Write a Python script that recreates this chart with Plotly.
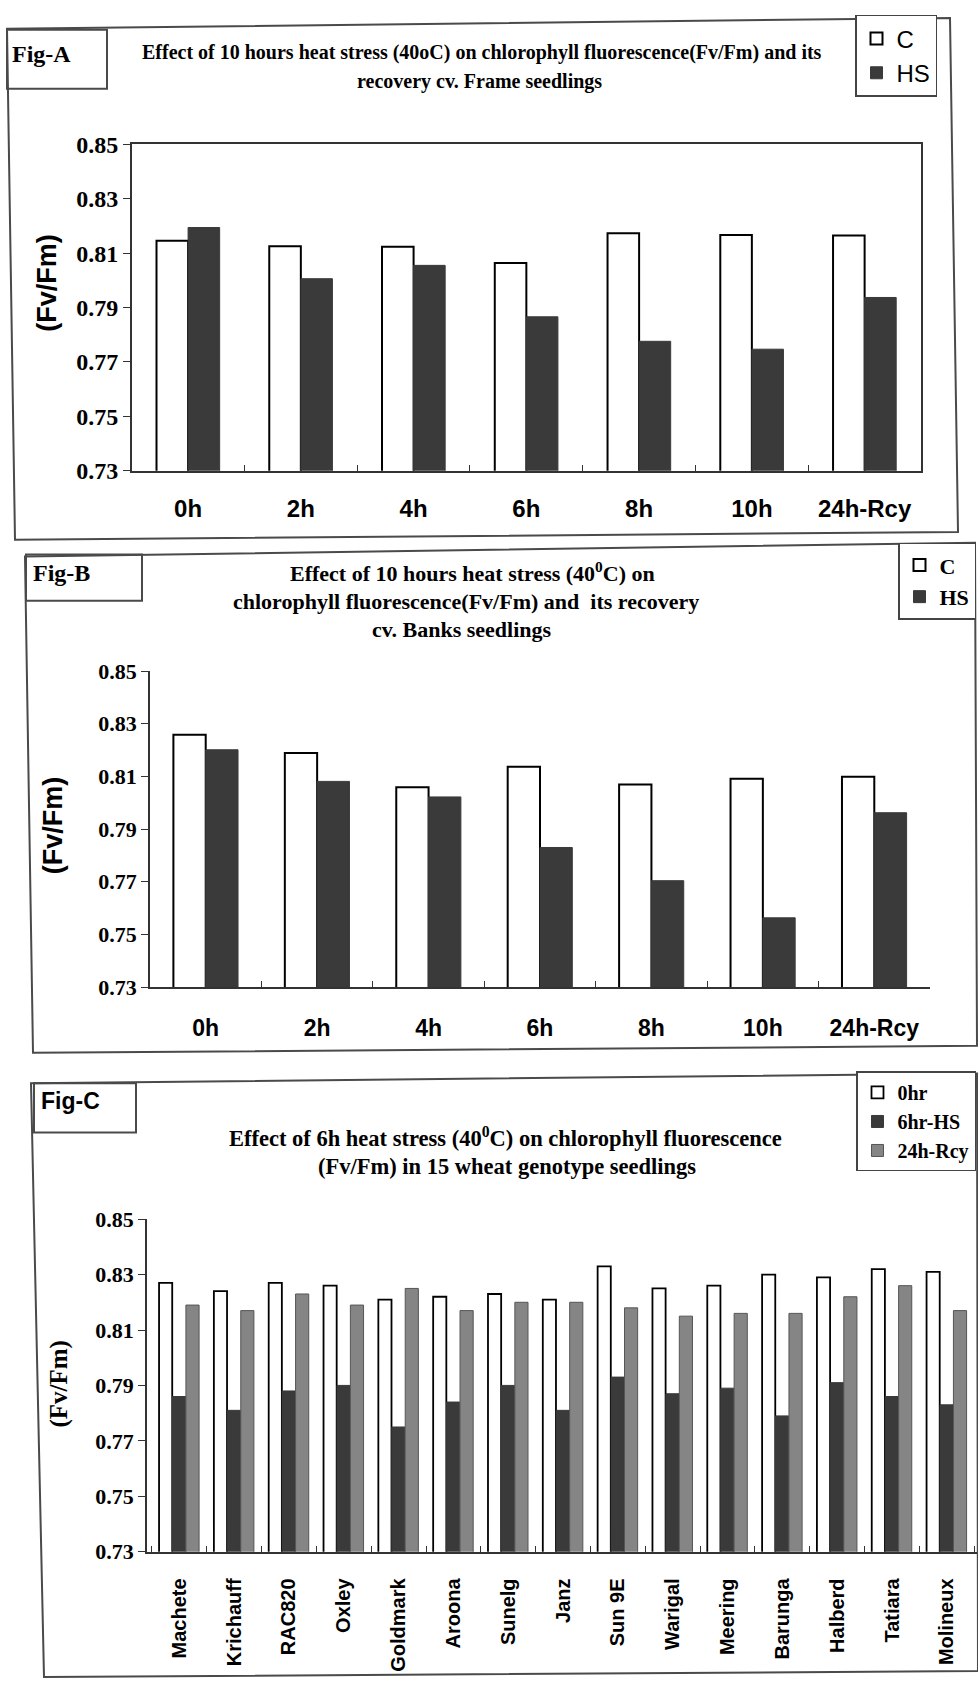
import plotly.graph_objects as go

W, H = 978, 1691

# ---------------- data ----------------
time_labels = ["0h", "2h", "4h", "6h", "8h", "10h", "24h-Rcy"]
a_control = [0.8145, 0.8125, 0.8123, 0.8064, 0.8173, 0.8167, 0.8165]
a_heat = [0.8194, 0.8006, 0.8055, 0.7866, 0.7776, 0.7747, 0.7937]
b_control = [0.8258, 0.8189, 0.8059, 0.8137, 0.8069, 0.8091, 0.8099]
b_heat = [0.8201, 0.8081, 0.8022, 0.7830, 0.7704, 0.7563, 0.7962]

genotypes = ["Machete", "Krichauff", "RAC820", "Oxley", "Goldmark", "Aroona", "Sunelg",
             "Janz", "Sun 9E", "Warigal", "Meering", "Barunga", "Halberd", "Tatiara", "Molineux"]
c_0hr = [0.827, 0.824, 0.827, 0.826, 0.821, 0.822, 0.823, 0.821, 0.833, 0.825, 0.826, 0.830, 0.829, 0.832, 0.831]
c_6hr_hs = [0.786, 0.781, 0.788, 0.790, 0.775, 0.784, 0.790, 0.781, 0.793, 0.787, 0.789, 0.779, 0.791, 0.786, 0.783]
c_24h_rcy = [0.819, 0.817, 0.823, 0.819, 0.825, 0.817, 0.820, 0.820, 0.818, 0.815, 0.816, 0.816, 0.822, 0.826, 0.817]

y_ticks = [0.73, 0.75, 0.77, 0.79, 0.81, 0.83, 0.85]

# ---------------- helpers ----------------
def px(x):
    return x / W

def py(y):
    return 1 - y / H

def path(pts):
    return "M " + " L ".join(f"{px(x):.5f},{py(y):.5f}" for x, y in pts) + " Z"

SERIF = "Liberation Serif"
SANS = "Liberation Sans"
DARK = "#3a3a3a"
GRAY = "#858585"
LINE = "#333333"

fig = go.Figure()

# ---------------- Fig A ----------------
fig.add_trace(go.Bar(x=time_labels, y=a_control, name="C", xaxis="x", yaxis="y",
                     marker=dict(color="white", line=dict(color="black", width=2)),
                     width=0.28, offset=-0.28, legend="legend", legendgroup="a1"))
fig.add_trace(go.Bar(x=time_labels, y=a_heat, name="HS", xaxis="x", yaxis="y",
                     marker=dict(color=DARK, line=dict(color=DARK, width=1)),
                     width=0.28, offset=0.0, legend="legend", legendgroup="a2"))

# ---------------- Fig B ----------------
fig.add_trace(go.Bar(x=time_labels, y=b_control, name="C", xaxis="x2", yaxis="y2",
                     marker=dict(color="white", line=dict(color="black", width=2)),
                     width=0.29, offset=-0.29, legend="legend2", legendgroup="b1"))
fig.add_trace(go.Bar(x=time_labels, y=b_heat, name="HS", xaxis="x2", yaxis="y2",
                     marker=dict(color=DARK, line=dict(color=DARK, width=1)),
                     width=0.29, offset=0.0, legend="legend2", legendgroup="b2"))

# ---------------- Fig C ----------------
fig.add_trace(go.Bar(x=genotypes, y=c_0hr, name="0hr", xaxis="x3", yaxis="y3",
                     marker=dict(color="white", line=dict(color="black", width=1.8)),
                     width=0.24, offset=-0.37, legend="legend3", legendgroup="c1"))
fig.add_trace(go.Bar(x=genotypes, y=c_6hr_hs, name="6hr-HS", xaxis="x3", yaxis="y3",
                     marker=dict(color=DARK, line=dict(color=DARK, width=1)),
                     width=0.24, offset=-0.125, legend="legend3", legendgroup="c2"))
fig.add_trace(go.Bar(x=genotypes, y=c_24h_rcy, name="24h-Rcy", xaxis="x3", yaxis="y3",
                     marker=dict(color=GRAY, line=dict(color="#555555", width=1)),
                     width=0.24, offset=0.12, legend="legend3", legendgroup="c3"))

common_y = dict(range=[0.73, 0.85], tickvals=y_ticks, tickformat=".2f", ticks="outside",
                ticklen=7, tickcolor=LINE, showline=True, linecolor=LINE, linewidth=1.5,
                showgrid=False, zeroline=False)
common_x = dict(type="category", showline=True, linecolor=LINE, linewidth=1.5,
                ticks="inside", tickson="boundaries", ticklen=6, tickcolor=LINE,
                showgrid=False, zeroline=False)

fig.update_layout(
    width=W, height=H, margin=dict(l=0, r=0, t=0, b=0),
    paper_bgcolor="white", plot_bgcolor="white",
    barmode="group", showlegend=True,
    xaxis=dict(common_x, domain=[px(131.7), px(921)], anchor="y", range=[-0.5, 6.5], mirror=True,
               tickfont=dict(family=SANS, size=24, color="black", weight="bold"),
               ticklabelstandoff=16),
    yaxis=dict(common_y, domain=[py(465), py(133.3)], anchor="x", mirror=True,
               tickfont=dict(family=SERIF, size=24, color="black", weight="bold")),
    xaxis2=dict(common_x, domain=[px(150), px(930)], anchor="y2", range=[-0.5, 6.5],
                tickfont=dict(family=SANS, size=23, color="black", weight="bold"),
                ticklabelstandoff=20),
    yaxis2=dict(common_y, domain=[py(989.3), py(668.3)], anchor="x2",
                tickfont=dict(family=SERIF, size=22, color="black", weight="bold")),
    xaxis3=dict(common_x, domain=[px(147), px(977)], anchor="y3", range=[-0.59, 14.55],
                tickangle=-90,
                tickfont=dict(family=SANS, size=20, color="black", weight="bold"),
                ticklabelstandoff=17),
    yaxis3=dict(common_y, domain=[py(1562.7), py(1225)], anchor="x3",
                tickfont=dict(family=SERIF, size=22, color="black", weight="bold")),
    legend=dict(x=px(937), xanchor="right", y=py(2), yanchor="top",
                bordercolor="#444444", borderwidth=1.5, bgcolor="white",
                font=dict(family=SANS, size=24, color="black"),
                tracegroupgap=10, itemwidth=30, traceorder="normal"),
    legend2=dict(x=px(976), xanchor="right", y=py(538), yanchor="top",
                 bordercolor="#444444", borderwidth=1.5, bgcolor="white",
                 font=dict(family=SERIF, size=22, color="black", weight="bold"),
                 tracegroupgap=12, itemwidth=30, traceorder="normal"),
    legend3=dict(x=px(976), xanchor="right", y=py(1075), yanchor="top",
                 bordercolor="#444444", borderwidth=1.5, bgcolor="white",
                 font=dict(family=SERIF, size=20, color="black", weight="bold"),
                 tracegroupgap=9, itemwidth=30, traceorder="normal"),
)

# ---------------- frames and label boxes ----------------
frames = [
    [(7, 16), (950, 5), (958, 527), (15, 535)],
    [(25, 552), (975, 538), (977, 1049), (33, 1056)],
    [(31, 1087), (977, 1077), (978, 1684), (44, 1690)],
]
label_boxes = [
    [(7, 17), (107, 17), (107, 77), (7, 77)],
    [(26, 550), (142, 550), (142, 597), (26, 597)],
    [(34, 1087), (136, 1087), (136, 1137), (34, 1137)],
]
shapes = []
for f in frames + label_boxes:
    shapes.append(dict(type="path", path=path(f), xref="paper", yref="paper",
                       line=dict(color="#4a4a4a", width=2), layer="below"))
fig.update_layout(shapes=shapes)

# ---------------- text ----------------
def ann(text, x, y, size, family, bold=True, angle=0, xanchor="center"):
    fig.add_annotation(text=text, x=px(x), y=py(y), xref="paper", yref="paper",
                       showarrow=False, xanchor=xanchor, yanchor="middle", textangle=angle,
                       font=dict(family=family, size=size, color="black",
                                 weight="bold" if bold else "normal"))

# panel labels
ann("Fig-A", 10, 42, 24, SERIF, xanchor="left")
ann("Fig-B", 31, 569, 24, SERIF, xanchor="left")
ann("Fig-C", 39, 1105, 23, SANS, xanchor="left")

# titles
ann("Effect of 10 hours heat stress (40oC) on chlorophyll fluorescence(Fv/Fm) and its", 482, 40, 20, SERIF)
ann("recovery cv. Frame seedlings", 479, 70, 20, SERIF)

ann("Effect of 10 hours heat stress (40<sup>0</sup>C) on", 472, 568, 22, SERIF)
ann("chlorophyll fluorescence(Fv/Fm) and  its recovery", 466, 598, 22, SERIF)
ann("cv. Banks seedlings", 462, 626, 22, SERIF)

ann("Effect of 6h heat stress (40<sup>0</sup>C) on chlorophyll fluorescence", 505, 1142, 22.5, SERIF)
ann("(Fv/Fm) in 15 wheat genotype seedlings", 507, 1172, 22.5, SERIF)

# y axis titles
ann("(Fv/Fm)", 47, 274, 27, SANS, angle=-90)
ann("(Fv/Fm)", 53, 825, 27, SANS, angle=-90)
ann("(Fv/Fm)", 59, 1393, 25, SERIF, angle=-90)

fig.write_html("out.html")
